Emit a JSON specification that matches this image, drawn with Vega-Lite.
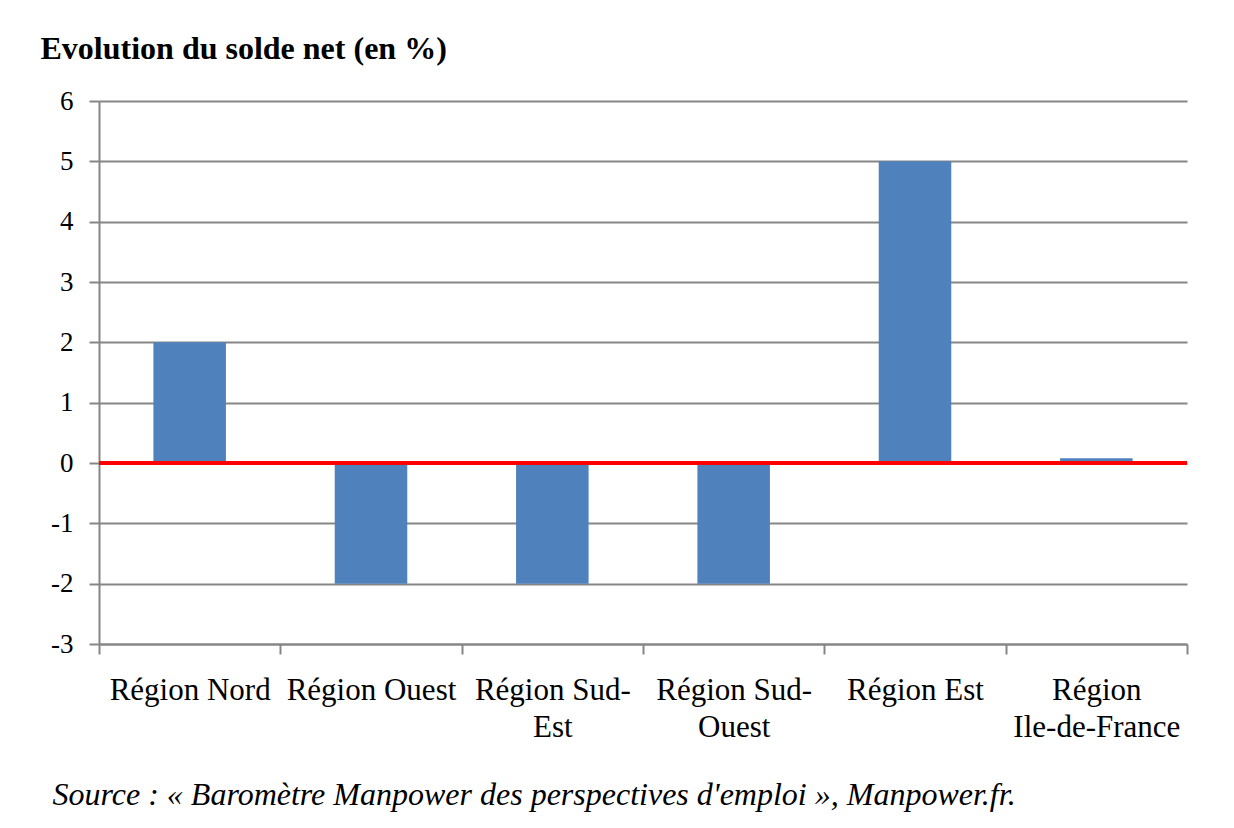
{
  "$schema": "https://vega.github.io/schema/vega-lite/v6.json",
  "width": 1088,
  "height": 543,
  "autosize": {"type": "none"},
  "padding": {"left": 99, "top": 101, "right": 47, "bottom": 184},
  "background": "white",
  "config": {"view": {"stroke": null}, "font": "Liberation Serif"},
  "data": {
    "values": [
      {"region": "Région Nord", "solde": 2},
      {"region": "Région Ouest", "solde": -2},
      {"region": "Région Sud-Est", "solde": -2},
      {"region": "Région Sud-Ouest", "solde": -2},
      {"region": "Région Est", "solde": 5},
      {"region": "Région Ile-de-France", "solde": 0.08}
    ]
  },
  "layer": [
    {
      "mark": {"type": "bar", "color": "#4F81BD", "width": {"band": 0.4}},
      "encoding": {
        "x": {
          "field": "region",
          "type": "nominal",
          "sort": null,
          "scale": {"paddingInner": 0, "paddingOuter": 0},
          "axis": {
            "title": "Source : « Baromètre Manpower des perspectives d'emploi », Manpower.fr.",
            "titleFont": "Liberation Serif",
            "titleFontStyle": "italic",
            "titleFontWeight": "normal",
            "titleFontSize": 32,
            "titleColor": "black",
            "titleX": -47,
            "titleY": 160,
            "titleAlign": "left",
            "titleAnchor": "start",
            "titleBaseline": "alphabetic",
            "labelAngle": 0,
            "labelFont": "Liberation Serif",
            "labelFontSize": 31,
            "labelColor": "black",
            "labelLineHeight": 37,
            "labelPadding": 21,
            "labelLimit": 400,
            "labelExpr": "datum.value == 'Région Sud-Est' ? ['Région Sud-', 'Est'] : datum.value == 'Région Sud-Ouest' ? ['Région Sud-', 'Ouest'] : datum.value == 'Région Ile-de-France' ? ['Région', 'Ile-de-France'] : datum.value",
            "tickBand": "extent",
            "tickSize": 10,
            "tickColor": "#868686",
            "tickWidth": 2,
            "domainColor": "#868686",
            "domainWidth": 2
          }
        },
        "y": {
          "field": "solde",
          "type": "quantitative",
          "scale": {"domain": [-3, 6], "nice": false},
          "axis": {
            "values": [-3, -2, -1, 0, 1, 2, 3, 4, 5, 6],
            "labelExpr": "datum.value < 0 ? '-' + abs(datum.value) : '' + datum.value",
            "grid": true,
            "gridColor": "#868686",
            "gridWidth": 2,
            "domainColor": "#868686",
            "domainWidth": 2,
            "tickColor": "#868686",
            "tickSize": 10,
            "tickWidth": 2,
            "labelFont": "Liberation Serif",
            "labelFontSize": 27,
            "labelColor": "black",
            "labelPadding": 16,
            "title": "Evolution du solde net (en %)",
            "titleFont": "Liberation Serif",
            "titleFontSize": 32,
            "titleFontWeight": "bold",
            "titleColor": "black",
            "titleAngle": 0,
            "titleX": -59,
            "titleY": -43,
            "titleAlign": "left",
            "titleBaseline": "alphabetic"
          }
        }
      }
    },
    {
      "mark": {"type": "rule", "color": "#FF0000", "strokeWidth": 3},
      "encoding": {"y": {"datum": 0}}
    }
  ]
}
